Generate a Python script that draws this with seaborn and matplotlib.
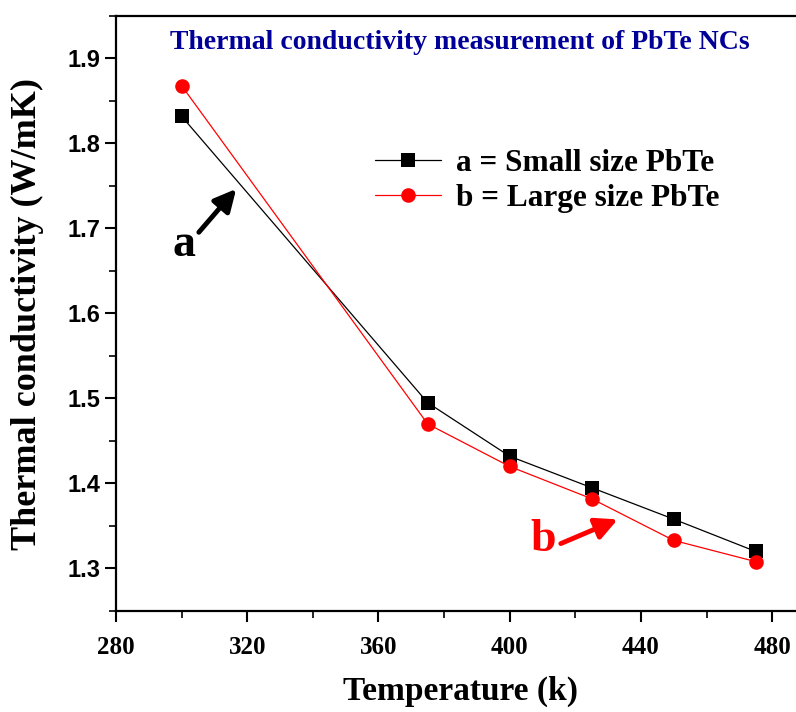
import pandas as pd
import matplotlib.pyplot as plt
import seaborn as sns
from matplotlib.ticker import MultipleLocator

sns.set_theme(style="ticks")
plt.rcParams['font.family'] = ['Liberation Serif', 'DejaVu Serif']
plt.rcParams['text.color'] = 'black'
plt.rcParams['axes.labelcolor'] = 'black'
plt.rcParams['xtick.color'] = 'black'
plt.rcParams['ytick.color'] = 'black'

# datos
temperature = [300, 375, 400, 425, 450, 475]
small_size = [1.832, 1.495, 1.432, 1.395, 1.358, 1.320]
large_size = [1.868, 1.470, 1.420, 1.382, 1.333, 1.308]
series_names = ['a = Small size PbTe', 'b = Large size PbTe']
colors = ['black', 'red']
markers = ['s', 'o']

df = pd.DataFrame({
    'Temperature': temperature * 2,
    'k': small_size + large_size,
    'serie': [series_names[0]] * len(temperature) + [series_names[1]] * len(temperature),
})

fig = plt.figure(figsize=(7.96, 7.12), dpi=100)
ax = fig.add_axes([0.1457, 0.1419, 0.8656, 0.8357])

for name, color, marker in zip(series_names, colors, markers):
    sub = df[df['serie'] == name]
    sns.lineplot(data=sub, x='Temperature', y='k', ax=ax, color=color, marker=marker,
                 markersize=10.5, markeredgewidth=0, linewidth=0.9, label=name)

ax.set_xlim(280, 490)
ax.set_ylim(1.25, 1.95)
ax.xaxis.set_major_locator(MultipleLocator(40))
ax.xaxis.set_minor_locator(MultipleLocator(20))
ax.yaxis.set_major_locator(MultipleLocator(0.1))
ax.yaxis.set_minor_locator(MultipleLocator(0.05))
ax.set_xticks([280, 320, 360, 400, 440, 480])
ax.set_yticks([1.3, 1.4, 1.5, 1.6, 1.7, 1.8, 1.9])

for sp in ax.spines.values():
    sp.set_linewidth(1.6)
    sp.set_color('black')

ax.tick_params(axis='both', which='major', direction='out', length=8, width=1.5, color='black')
ax.tick_params(axis='both', which='minor', direction='out', length=5, width=1.2, color='black')
ax.tick_params(axis='x', pad=10)

for lab in ax.get_xticklabels():
    lab.set_fontfamily(['Liberation Serif'])
    lab.set_fontweight('bold')
    lab.set_fontsize(18)
for lab in ax.get_yticklabels():
    lab.set_fontfamily(['Liberation Sans'])
    lab.set_fontweight('bold')
    lab.set_fontsize(17)

ax.set_xlabel('Temperature (k)', fontsize=24, fontweight='bold', labelpad=12)
ax.set_ylabel('Thermal conductivity (W/mK)', fontsize=26, fontweight='bold')
ax.yaxis.set_label_coords(-0.104, 0.499)

ax.text(0.499, 0.955, 'Thermal conductivity measurement of PbTe NCs', transform=ax.transAxes,
        ha='center', va='center', fontsize=20, fontweight='bold', color='#000099')

leg = ax.legend(loc='upper left', bbox_to_anchor=(0.376, 0.777), frameon=False,
                borderaxespad=0, borderpad=0, handlelength=2.1, handletextpad=0.5,
                labelspacing=0.2, prop={'family': 'Liberation Serif', 'weight': 'bold', 'size': 22.5})
for t in leg.get_texts():
    t.set_color('black')

# anotaciones a / b con flechas
ax.annotate('', xy=(317.2, 1.749), xytext=(304.7, 1.693),
            arrowprops=dict(arrowstyle='-|>,head_length=1.1,head_width=0.55', color='black', lw=3.5))
ax.text(300.7, 1.681, 'a', ha='center', va='center', fontsize=33, fontweight='bold', color='black')
ax.annotate('', xy=(433.7, 1.359), xytext=(414.8, 1.328),
            arrowprops=dict(arrowstyle='-|>,head_length=1.1,head_width=0.55', color='red', lw=3.5))
ax.text(410.2, 1.333, 'b', ha='center', va='center', fontsize=33, fontweight='bold', color='red')

plt.savefig('out.png', dpi=100)
